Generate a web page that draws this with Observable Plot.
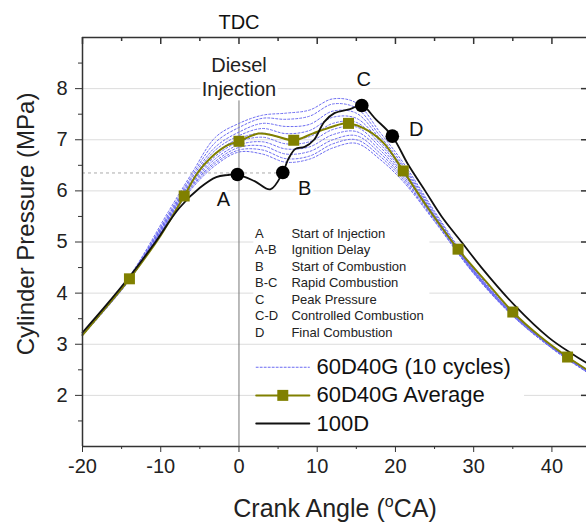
<!DOCTYPE html>
<html><head><meta charset="utf-8">
<script src="https://cdn.jsdelivr.net/npm/d3@7"></script>
<script src="https://cdn.jsdelivr.net/npm/@observablehq/plot@0.6"></script>
<style>body{margin:0;overflow:hidden;background:#fff} #chart svg{display:block}</style>
</head><body><div id="chart"></div>
<script>
const FONT = '"Liberation Sans", Arial, Helvetica, sans-serif';

// 100D (black)
const d100X = [-20,-17,-14,-11,-7.6,-5,-2.9,-1.5,-0.2,2,4,5.6,6.3,7.2,8.4,9.6,10.9,12.2,14.2,15.7,17.5,19.6,21.6,23.8,25.9,28.5,31,35.3,39.6,42.6,44.5];
const d100Y = [3.23,3.76,4.32,4.93,5.67,6.06,6.27,6.31,6.32,6.19,6.03,6.36,6.62,6.82,6.86,7.0,7.35,7.52,7.6,7.67,7.4,7.07,6.52,6.0,5.5,4.99,4.5,3.75,3.13,2.81,2.63];

// 60D40G average (olive)
const avgX = [-20,-17,-14,-10,-7,-5.3,-3.6,-1.5,0,2.5,4.5,7,9.4,11.8,14,16.5,18.6,21,24,28,31.5,35,38.5,42,44.5];
const avgY = [3.18,3.72,4.28,5.13,5.9,6.35,6.65,6.89,6.97,7.12,7.08,6.99,7.12,7.25,7.32,7.18,6.92,6.39,5.7,4.86,4.24,3.63,3.15,2.75,2.5];
const markX = [-14,-7,0,7,14,21,28,35,42];
const markY = [4.28,5.9,6.97,6.99,7.32,6.39,4.86,3.63,2.75];

// 60D40G individual cycles (blue dotted)
const cycX = [-20,-14,-9,-6,-3,0,3,6,9,12,15,18,21,25,30,35,40,44.5];
const cycle1  = [3.22,4.33,5.60,6.35,7.05,7.32,7.48,7.52,7.58,7.80,7.72,7.15,6.55,5.60,4.48,3.62,2.97,2.50];
const cycle2  = [3.21,4.32,5.55,6.30,6.95,7.24,7.42,7.40,7.46,7.70,7.62,7.08,6.50,5.57,4.46,3.60,2.96,2.49];
const cycle3  = [3.20,4.31,5.52,6.26,6.86,7.15,7.32,7.26,7.30,7.56,7.52,7.02,6.46,5.54,4.45,3.60,2.95,2.48];
const cycle4  = [3.20,4.30,5.50,6.22,6.80,7.08,7.22,7.12,7.18,7.44,7.42,6.97,6.42,5.52,4.44,3.59,2.95,2.48];
const cycle5  = [3.19,4.29,5.48,6.19,6.74,7.02,7.13,7.02,7.06,7.32,7.34,6.92,6.38,5.50,4.43,3.58,2.94,2.47];
const cycle6  = [3.19,4.28,5.46,6.16,6.68,6.96,7.05,6.92,6.96,7.20,7.25,6.86,6.34,5.48,4.42,3.58,2.94,2.47];
const cycle7  = [3.19,4.27,5.45,6.13,6.63,6.90,6.96,6.82,6.86,7.10,7.16,6.80,6.30,5.46,4.41,3.57,2.93,2.46];
const cycle8  = [3.18,4.27,5.43,6.10,6.58,6.85,6.88,6.72,6.77,7.00,7.08,6.74,6.26,5.44,4.40,3.56,2.93,2.46];
const cycle9  = [3.18,4.26,5.42,6.08,6.54,6.80,6.80,6.63,6.68,6.92,7.00,6.68,6.22,5.42,4.39,3.56,2.92,2.45];
const cycle10 = [3.17,4.25,5.40,6.05,6.50,6.76,6.72,6.56,6.62,6.84,6.93,6.62,6.18,5.40,4.38,3.55,2.92,2.45];

// Key points on 100D
const pointLabels = ["A","B","C","D"];
const pointX = [-0.2, 5.6, 15.7, 19.6];
const pointY = [6.32, 6.36, 7.67, 7.07];
const injectionPressure = 6.35;

// Annotation table
const tableCodes = ["A","A-B","B","B-C","C","C-D","D"];
const tableDescs = ["Start of Injection","Ignition Delay","Start of Combustion","Rapid Combustion","Peak Pressure","Controlled Combustion","Final Combustion"];

// Legend
const legendLabels = ["60D40G (10 cycles)","60D40G Average","100D"];

// Ticks
const xMajor = [-20,-10,0,10,20,30,40];
const xMinor = [-15,-5,5,15,25,35];
const yMajor = [2,3,4,5,6,7,8];
const yMinor = [1.5,2.5,3.5,4.5,5.5,6.5,7.5,8.5];

// ---- build tables ----
const zip = (xs, ys) => xs.map((x, i) => ({x, y: ys[i]}));
const d100 = zip(d100X, d100Y);
const avg = zip(avgX, avgY);
const marks = zip(markX, markY);
const cycles = [cycle1,cycle2,cycle3,cycle4,cycle5,cycle6,cycle7,cycle8,cycle9,cycle10]
  .flatMap((ys, k) => cycX.map((x, i) => ({x, y: ys[i], cycle: k})));
const points = pointLabels.map((label, i) => ({label, x: pointX[i], y: pointY[i]}));

// layout (data coordinates for in-plot annotations)
const XMIN = -20, XMAX = 44.42, YMIN = 1, YMAX = 9;
const tableTop = 5.16, tableStep = 0.322, codeX = 2.05, descX = 6.7;
const table = tableCodes.map((code, i) => ({code, desc: tableDescs[i], y: tableTop - i * tableStep}));
const legX1 = 2.2, legX2 = 9.0, legTextX = 9.9, legY = [2.55, 2.0, 1.45];
const labelOffsets = {A: [-14, 25], B: [22, 16], C: [2, -26], D: [24, -7]};

const OLIVE = "#808000";
const BLUE = "#6b6bf2";
const AX = "#333";
const halo = {stroke: "white", strokeWidth: 6};

const plot = Plot.plot({
  width: 586, height: 522,
  marginLeft: 82, marginRight: 0, marginTop: 37, marginBottom: 76,
  style: {fontFamily: FONT, color: "#222", background: "white"},
  x: {domain: [XMIN, XMAX]},
  y: {domain: [YMIN, YMAX]},
  marks: [
    Plot.ruleY(yMajor, {stroke: "#dcdcdc", strokeWidth: 1}),
    Plot.rect([0], {x1: 1.9, x2: 24.4, y1: 3.06, y2: 5.37, fill: "white"}),
    Plot.rect([0], {x1: 2.2, x2: 36.5, y1: 1.1, y2: 2.9, fill: "white"}),
    Plot.ruleY([injectionPressure], {x1: XMIN, x2: pointX[1], stroke: "#aaa", strokeDasharray: "3,3", strokeWidth: 1}),
    Plot.ruleX([0], {y1: YMIN, y2: 7.76, stroke: "#777", strokeWidth: 1}),
    Plot.line(cycles, {x: "x", y: "y", z: "cycle", stroke: BLUE, strokeWidth: 1, strokeDasharray: "2,2", curve: "catmull-rom"}),
    Plot.line(avg, {x: "x", y: "y", stroke: OLIVE, strokeWidth: 2, curve: "catmull-rom"}),
    Plot.line(d100, {x: "x", y: "y", stroke: "#111", strokeWidth: 1.8, curve: "catmull-rom"}),
    Plot.dot(marks, {x: "x", y: "y", symbol: "square", r: 6.2, fill: OLIVE, stroke: "none"}),
    Plot.dot(points, {x: "x", y: "y", r: 6.8, fill: "#000", stroke: "none"}),
    ...pointLabels.map((L, i) => Plot.text([points[i]], {x: "x", y: "y", text: "label", dx: labelOffsets[L][0], dy: labelOffsets[L][1], fontSize: 20, fill: "#111", ...halo})),
    Plot.text(["TDC"], {x: 0, y: YMAX, dy: -15, fontSize: 20, fill: "#111"}),
    Plot.text(["Diesel\nInjection"], {x: 0, y: 8.24, fontSize: 20, lineHeight: 1.2, fill: "#222", ...halo}),
    Plot.text(table, {x: codeX, y: "y", text: "code", textAnchor: "start", fontSize: 13, fill: "#222"}),
    Plot.text(table, {x: descX, y: "y", text: "desc", textAnchor: "start", fontSize: 13, fill: "#222"}),
    Plot.line([{x: legX1, y: legY[0]}, {x: legX2, y: legY[0]}], {x: "x", y: "y", stroke: BLUE, strokeWidth: 1, strokeDasharray: "2,2"}),
    Plot.line([{x: legX1, y: legY[1]}, {x: legX2, y: legY[1]}], {x: "x", y: "y", stroke: OLIVE, strokeWidth: 2}),
    Plot.dot([{x: (legX1 + legX2) / 2, y: legY[1]}], {x: "x", y: "y", symbol: "square", r: 6.2, fill: OLIVE}),
    Plot.line([{x: legX1, y: legY[2]}, {x: legX2, y: legY[2]}], {x: "x", y: "y", stroke: "#111", strokeWidth: 1.8}),
    Plot.text(legendLabels.map((t, i) => ({t, y: legY[i]})), {x: legTextX, y: "y", text: "t", textAnchor: "start", fontSize: 22, fill: "#111"}),
    Plot.ruleX([XMIN], {stroke: AX, strokeWidth: 1.5}),
    Plot.ruleY([YMIN, YMAX], {stroke: AX, strokeWidth: 1.5}),
    Plot.axisX({ticks: xMajor, tickSize: 6, tickPadding: 6, fontSize: 20, label: null, stroke: AX, fill: "#222", tickFormat: d => String(d)}),
    Plot.axisX({ticks: xMinor, tickSize: 3, label: null, stroke: AX, tickFormat: () => ""}),
    Plot.axisY({ticks: yMajor, tickSize: 7, tickPadding: 8, fontSize: 20, label: null, stroke: AX, fill: "#222", tickFormat: d => String(d)}),
    Plot.axisY({ticks: yMinor, tickSize: 4, label: null, stroke: AX, tickFormat: () => ""}),
    Plot.tickX(xMajor, {x: d => d, insetBottom: 402, stroke: AX, strokeWidth: 1.5}),
    Plot.tickX(xMinor, {x: d => d, insetBottom: 405, stroke: AX, strokeWidth: 1.5}),
    Plot.tickY(yMajor, {y: d => d, insetLeft: 499, stroke: AX, strokeWidth: 1.5})
  ]
});

document.getElementById("chart").appendChild(plot);

const svg = d3.select(plot);
const xt = svg.append("text")
  .attr("x", 335).attr("y", 517)
  .attr("text-anchor", "middle")
  .attr("font-family", FONT).attr("font-size", 25).attr("fill", "#222");
xt.append("tspan").text("Crank Angle (");
xt.append("tspan").text("o").attr("font-size", 16).attr("dy", -10);
xt.append("tspan").text("CA)").attr("dy", 10);

svg.append("text")
  .attr("transform", "translate(26,224) rotate(-90)")
  .attr("text-anchor", "middle").attr("dy", "0.35em")
  .attr("font-family", FONT).attr("font-size", 24).attr("fill", "#222")
  .text("Cylinder Pressure (MPa)");
</script>
</body></html>
